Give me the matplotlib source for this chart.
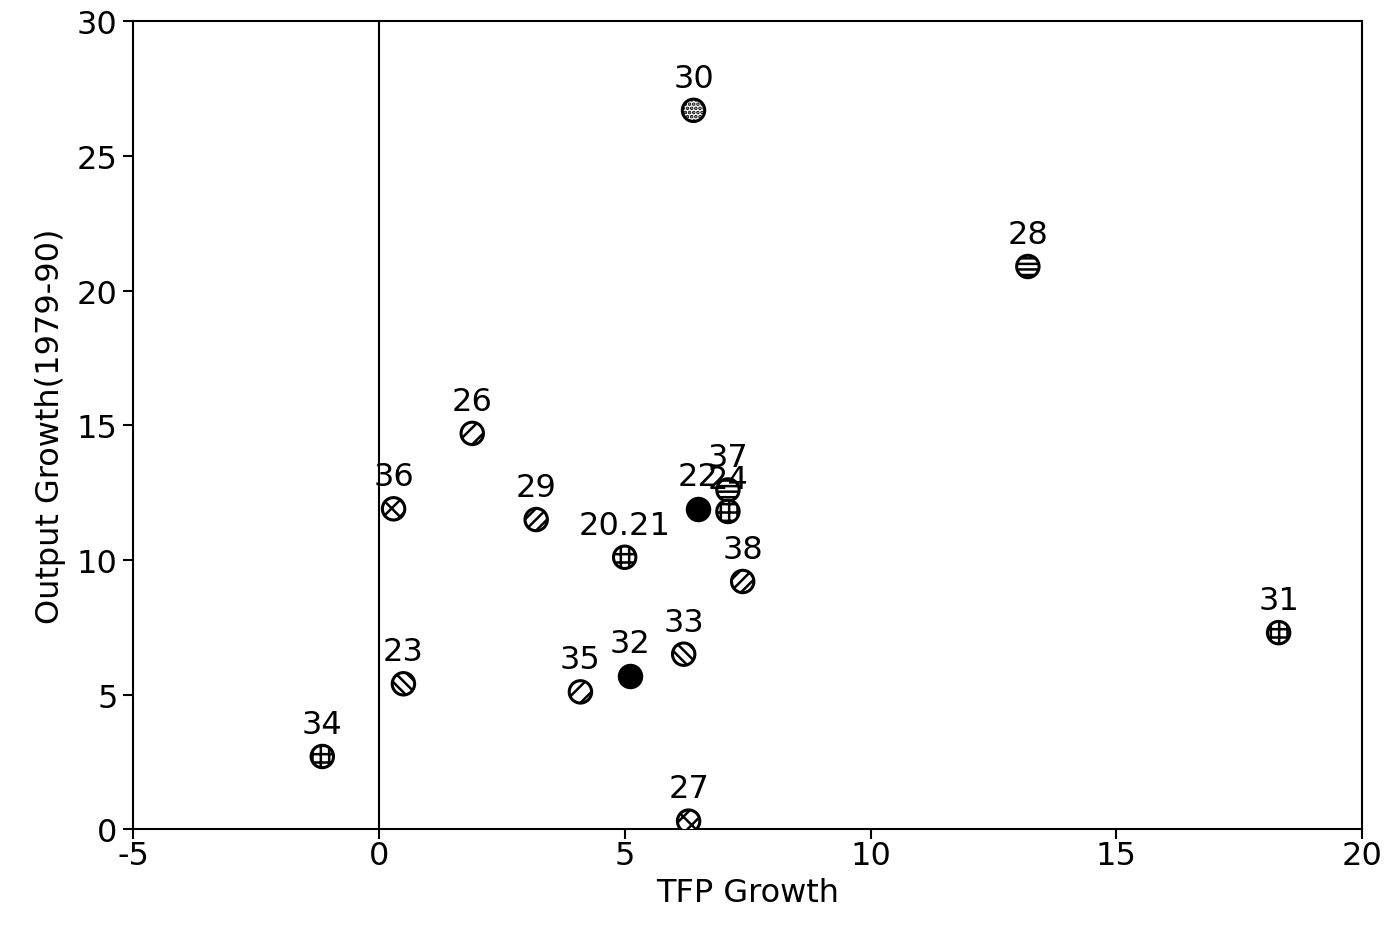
import matplotlib
matplotlib.use("Agg")
import matplotlib.pyplot as plt

# industry codes, TFP growth and output growth (1979-90)
labels = ["30", "28", "31", "26", "36", "29", "20.21", "22", "37", "24",
          "38", "33", "32", "35", "23", "34", "27"]
tfp = [6.4, 13.2, 18.3, 1.9, 0.3, 3.2, 5.0, 6.5, 7.1, 7.1,
       7.4, 6.2, 5.1, 4.1, 0.5, -1.15, 6.3]
output = [26.7, 20.9, 7.3, 14.7, 11.9, 11.5, 10.1, 11.9, 12.6, 11.8,
          9.2, 6.5, 5.7, 5.1, 5.4, 2.7, 0.3]
group = ["dot", "hline", "cross", "diag1", "xcross", "diag2", "cross", "solid", "hline", "cross",
         "diag2", "back", "solid", "diag1", "back", "cross", "xcross"]

# marker fill per group
HATCH = {"dot": "....", "hline": "---", "cross": "++", "diag1": "//", "diag2": "///",
         "back": "\\\\\\", "xcross": "xx", "solid": None}

xticks = [-5, 0, 5, 10, 15, 20]
yticks = [0, 5, 10, 15, 20, 25, 30]

plt.rcParams["font.family"] = "DejaVu Sans"
plt.rcParams["hatch.linewidth"] = 1.8
plt.rcParams["axes.unicode_minus"] = False


def main():
    fig = plt.figure(figsize=(14, 9.37), dpi=100)
    ax = fig.add_axes([0.095, 0.114, 0.878, 0.862])

    ax.axvline(0, color="black", lw=1.5, zorder=1)

    for g, h in HATCH.items():
        xs = [x for x, gg in zip(tfp, group) if gg == g]
        ys = [y for y, gg in zip(output, group) if gg == g]
        if g == "solid":
            ax.scatter(xs, ys, s=260, marker="o", facecolor="black",
                       edgecolor="black", linewidths=2.2, zorder=3)
        else:
            ax.scatter(xs, ys, s=260, marker="o", facecolor="white",
                       edgecolor="black", hatch=h, linewidths=2.2, zorder=3)

    for lab, x, y in zip(labels, tfp, output):
        ax.annotate(lab, (x, y), xytext=(0, 17), textcoords="offset points",
                    ha="center", va="baseline", fontsize=23, zorder=4)

    ax.set_xlim(-5, 20)
    ax.set_ylim(0, 30)
    ax.set_xticks(xticks)
    ax.set_yticks(yticks)
    ax.tick_params(direction="out", length=7, width=1.5, labelsize=23)
    ax.tick_params(axis="x", pad=1)
    ax.tick_params(axis="y", pad=4)
    for sp in ax.spines.values():
        sp.set_linewidth(1.5)

    ax.set_xlabel("TFP Growth", fontsize=23, labelpad=4)
    ax.set_ylabel("Output Growth(1979-90)", fontsize=23, labelpad=8)

    fig.savefig("out.png", dpi=100)


if __name__ == "__main__":
    main()
